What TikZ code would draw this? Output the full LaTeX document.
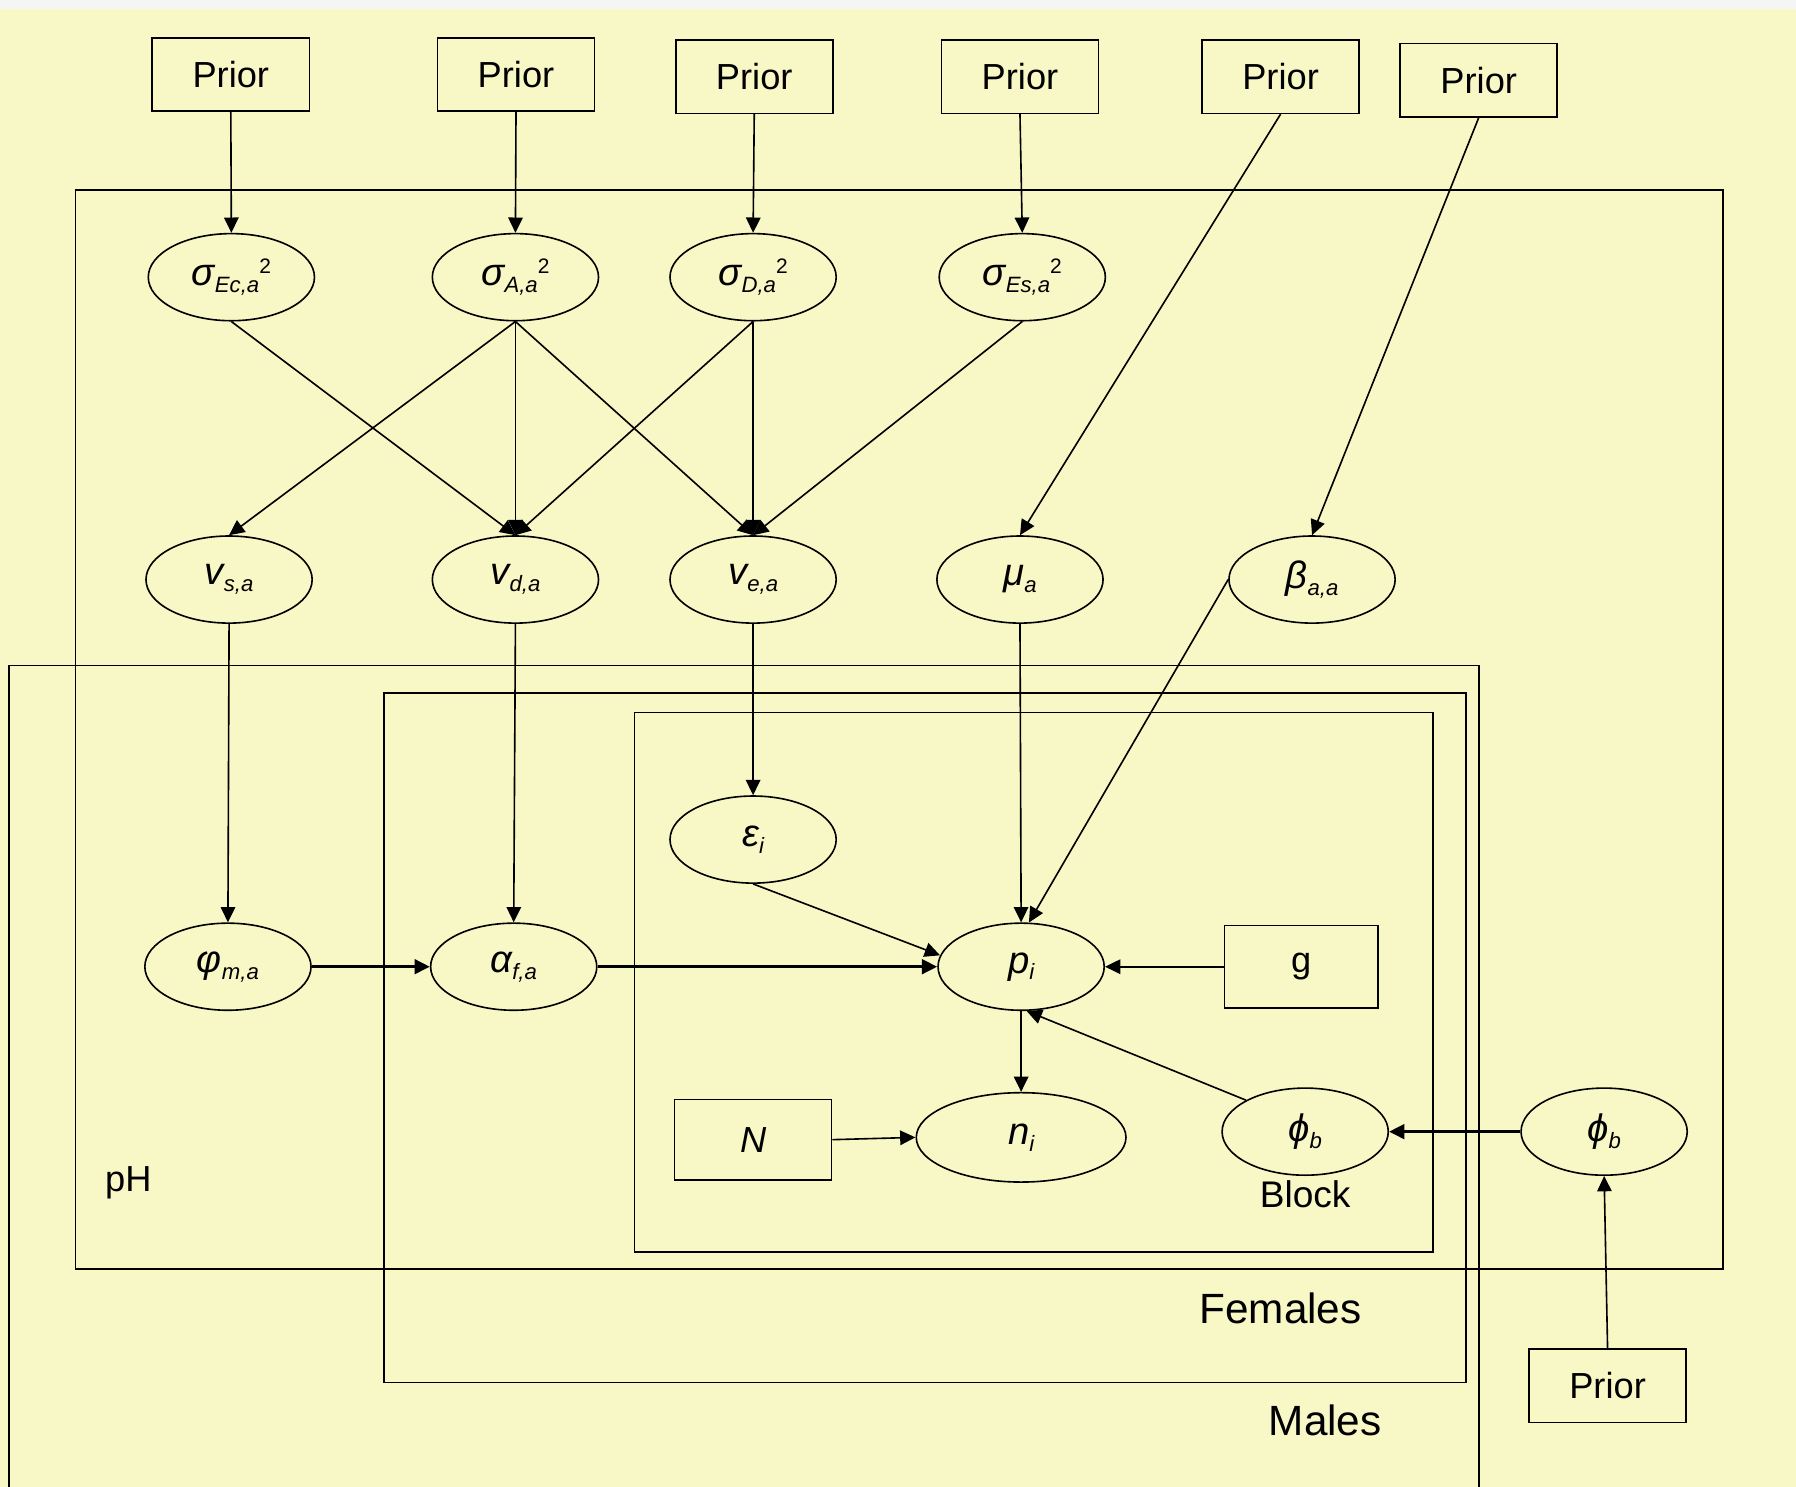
\documentclass[tikz,border=0pt]{standalone}
\usepackage{fontspec}
\setmainfont{Liberation Sans}
\usetikzlibrary{shapes.geometric, arrows.meta}
\definecolor{paper}{RGB}{248,247,198}
\newcommand{\lo}[1]{\raisebox{-1.7pt}{\fontsize{5.5}{6}\selectfont\itshape #1}}
\newcommand{\hi}[1]{\raisebox{2.9pt}{\fontsize{5.2}{6}\selectfont\upshape #1}}
\tikzset{var/.style={draw,ellipse,inner sep=0pt,minimum width=1.45cm,minimum height=0.76cm,font=\fontsize{9.5}{11}\selectfont\itshape},
         prior/.style={draw,minimum width=1.37cm,minimum height=0.64cm,font=\fontsize{9}{11}\selectfont},
         platelabel/.style={font=\fontsize{10.5}{12}\selectfont},
         heavy/.style={->,line width=0.8pt},
        }

\begin{document}
\begin{tikzpicture}[x=0.01cm,y=-0.01cm,line width=0.4pt,>={Triangle[length=3.8pt,width=3.6pt]}]
        \useasboundingbox (0,0) rectangle (1568,1298);
        \fill[paper] (0,0) rectangle (1568,1298);
        \fill[white!96!black] (0,0) rectangle (1568,8);

        % plates
        \draw (66,166) rectangle (1504,1108);
        \draw (8,1298) -- (8,581) -- (1291,581) -- (1291,1298);
        \draw (335,605) rectangle (1280,1207);
        \draw (554,622) rectangle (1251,1093);
        \node[font=\fontsize{9}{11}\selectfont](ph)at(112,1033){pH};
        \node[platelabel](fem)at(1118,1142){Females};
        \node[platelabel](mal)at(1157,1240){Males};

        \node[prior](pr1)at(201.5,65){Prior};
        \node[prior](pr2)at(450.5,65){Prior};
        \node[prior](pr3)at(658.5,67){Prior};
        \node[prior](pr4)at(890.5,67){Prior};
        \node[prior](pr5)at(1118,67){Prior};
        \node[prior](pr6)at(1291,70){Prior};
        \node[prior](pr7)at(1403.5,1210){Prior};

        \node[var](sEc)at(202,242){σ\lo{Ec,a}\hi{2}};
        \node[var](sA)at(450,242){σ\lo{A,a}\hi{2}};
        \node[var](sD)at(657.5,242){σ\lo{D,a}\hi{2}};
        \node[var](sEs)at(892.5,242){σ\lo{Es,a}\hi{2}};

        \node[var](vs)at(200,506){v\lo{s,a}};
        \node[var](vd)at(450,506){v\lo{d,a}};
        \node[var](ve)at(657.5,506){v\lo{e,a}};
        \node[var](mu)at(890.5,506){μ\lo{a}};
        \node[var](beta)at(1145.5,506){β\lo{a,a}};

        \node[var](eps)at(657.5,733){ε\lo{i}};
        \node[var](phim)at(199,844){φ\lo{m,a}};
        \node[var](alpha)at(448.5,844){α\lo{f,a}};
        \node[var](p)at(891.5,844){p\lo{i}};
        \node[prior,minimum width=1.34cm,minimum height=0.72cm](g)at(1136,844){g};

        \node[prior,minimum height=0.70cm,font=\fontsize{9}{11}\selectfont\itshape](N)at(657.5,995){N};
        \node[var,minimum width=1.83cm,minimum height=0.78cm](n)at(891.5,993){n\lo{i}};
        \node[var,label={[font=\fontsize{9.2}{11}\selectfont,inner sep=1pt]below:Block}](phib)at(1139.5,988){ϕ\lo{b}};
        \node[var](phibo)at(1400.5,988){ϕ\lo{b}};

        \draw[->](pr1.south)--(sEc.north);
        \draw[->](pr2.south)--(sA.north);
        \draw[->](pr3.south)--(sD.north);
        \draw[->](pr4.south)--(sEs.north);
        \draw[->](pr5.south)--(mu.north);
        \draw[->](pr6.south)--(beta.north);

        \draw[->](sEc.south)--(vd.north);
        \draw[->](sA.south)--(vs.north);
        \draw[->](sA.south)--(vd.north);
        \draw[->](sA.south)--(ve.north);
        \draw[->](sD.south)--(vd.north);
        \draw[->](sD.south)--(ve.north);
        \draw[->](sEs.south)--(ve.north);

        \draw[->](vs.south)--(phim.north);
        \draw[->](vd.south)--(alpha.north);
        \draw[->](ve.south)--(eps.north);
        \draw[->](mu.south)--(p.north);
        \draw[->](beta.west)--(p.80);

        \draw[heavy](phim.east)--(alpha.west);
        \draw[heavy](alpha.east)--(p.west);
        \draw[->](eps.south)--(p.172);
        \draw[->](g.west)--(p.east);
        \draw[->](p.south)--(n.north);
        \draw[->](N.east)--(n.west);
        \draw[->](phib.152)--(p.-83);
        \draw[heavy](phibo.west)--(phib.east);
        \draw[->](pr7.north)--(phibo.south);
    \end{tikzpicture}
\end{document}
